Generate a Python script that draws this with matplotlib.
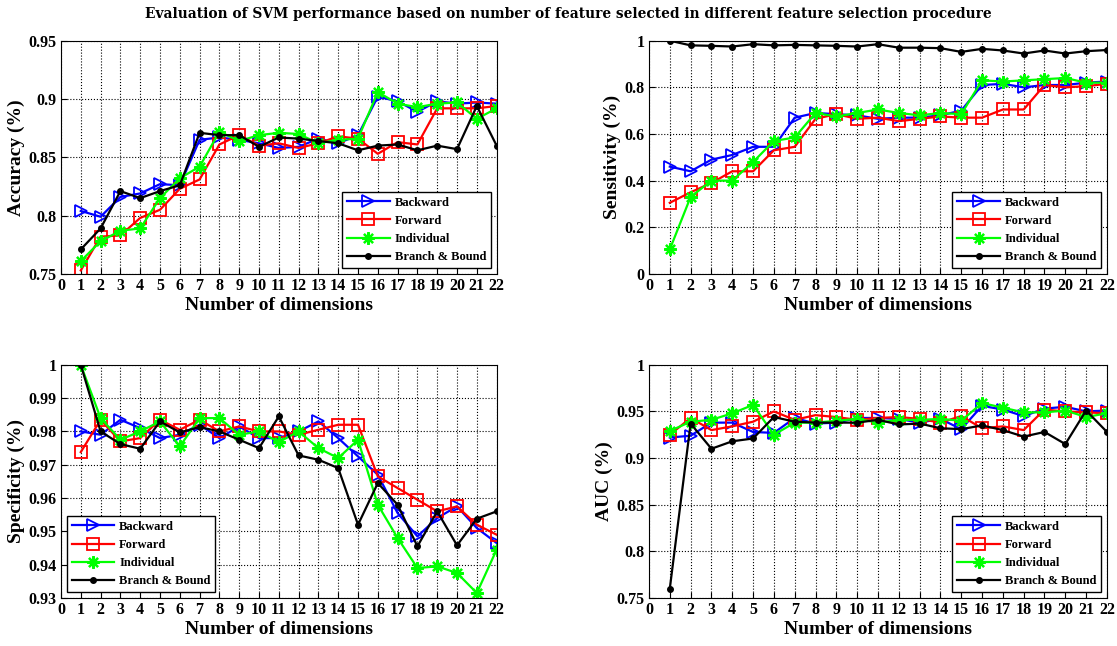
import numpy as np
import matplotlib
matplotlib.use("Agg")
import matplotlib.pyplot as plt
from matplotlib.ticker import FuncFormatter

plt.rcParams['font.family'] = ['Liberation Serif', 'DejaVu Serif']

dims = list(range(1, 23))
methods = ["Backward", "Forward", "Individual", "Branch & Bound"]

acc_backward = [0.804, 0.799, 0.816, 0.819, 0.827, 0.826, 0.865, 0.867, 0.865, 0.862, 0.858,
                0.859, 0.866, 0.862, 0.869, 0.902, 0.898, 0.889, 0.898, 0.896, 0.897, 0.896]
acc_forward = [0.753, 0.782, 0.783, 0.798, 0.805, 0.823, 0.831, 0.861, 0.869, 0.860, 0.862,
               0.858, 0.862, 0.868, 0.866, 0.853, 0.863, 0.861, 0.892, 0.892, 0.892, 0.894]
acc_individual = [0.761, 0.778, 0.787, 0.789, 0.815, 0.832, 0.842, 0.872, 0.864, 0.869, 0.871,
                  0.870, 0.862, 0.865, 0.866, 0.906, 0.896, 0.893, 0.896, 0.897, 0.883, 0.892]
acc_bb = [0.771, 0.789, 0.821, 0.815, 0.821, 0.826, 0.871, 0.869, 0.869, 0.859, 0.867,
          0.866, 0.864, 0.862, 0.856, 0.860, 0.861, 0.856, 0.860, 0.857, 0.894, 0.860]

sen_backward = [0.46, 0.44, 0.49, 0.51, 0.545, 0.545, 0.67, 0.69, 0.685, 0.68, 0.665,
                0.67, 0.67, 0.68, 0.70, 0.81, 0.815, 0.80, 0.81, 0.81, 0.82, 0.825]
sen_forward = [0.305, 0.35, 0.39, 0.44, 0.44, 0.53, 0.545, 0.665, 0.685, 0.665, 0.67,
               0.655, 0.665, 0.675, 0.67, 0.67, 0.705, 0.705, 0.81, 0.80, 0.805, 0.815]
sen_individual = [0.105, 0.33, 0.40, 0.40, 0.48, 0.57, 0.585, 0.69, 0.675, 0.69, 0.705,
                  0.69, 0.68, 0.69, 0.685, 0.83, 0.825, 0.83, 0.835, 0.84, 0.82, 0.82]
sen_bb = [1.0, 0.98, 0.978, 0.975, 0.985, 0.98, 0.982, 0.98, 0.978, 0.975, 0.985,
          0.97, 0.97, 0.968, 0.952, 0.965, 0.958, 0.945, 0.958, 0.945, 0.955, 0.96]

spe_backward = [0.980, 0.979, 0.9835, 0.981, 0.978, 0.979, 0.982, 0.978, 0.9815, 0.978, 0.978,
                0.980, 0.983, 0.978, 0.9725, 0.967, 0.9555, 0.9485, 0.954, 0.9575, 0.951, 0.9465]
spe_forward = [0.9738, 0.9835, 0.977, 0.978, 0.9835, 0.9805, 0.9835, 0.980, 0.9815, 0.980, 0.980,
               0.979, 0.9805, 0.982, 0.982, 0.9665, 0.963, 0.9595, 0.956, 0.9575, 0.952, 0.949]
spe_individual = [1.0, 0.984, 0.9775, 0.980, 0.983, 0.9755, 0.984, 0.984, 0.979, 0.980, 0.9768,
                  0.980, 0.975, 0.972, 0.9775, 0.958, 0.948, 0.939, 0.9395, 0.9375, 0.9315, 0.9445]
spe_bb = [1.0, 0.980, 0.9762, 0.9748, 0.983, 0.9797, 0.9813, 0.980, 0.9775, 0.975, 0.9845,
          0.9728, 0.9715, 0.969, 0.952, 0.9645, 0.958, 0.9455, 0.956, 0.9458, 0.9538, 0.956]

auc_backward = [0.922, 0.924, 0.938, 0.938, 0.928, 0.927, 0.943, 0.937, 0.938, 0.943, 0.943,
                0.942, 0.938, 0.942, 0.931, 0.956, 0.952, 0.945, 0.953, 0.955, 0.950, 0.951]
auc_forward = [0.925, 0.943, 0.930, 0.934, 0.939, 0.950, 0.941, 0.946, 0.944, 0.941, 0.943,
               0.944, 0.942, 0.938, 0.945, 0.932, 0.934, 0.930, 0.952, 0.950, 0.949, 0.948]
auc_individual = [0.929, 0.939, 0.941, 0.948, 0.957, 0.925, 0.938, 0.938, 0.940, 0.942, 0.938,
                  0.941, 0.941, 0.942, 0.940, 0.959, 0.954, 0.949, 0.949, 0.951, 0.944, 0.948]
auc_bb = [0.760, 0.937, 0.910, 0.918, 0.921, 0.944, 0.939, 0.938, 0.938, 0.938, 0.941,
          0.936, 0.937, 0.932, 0.931, 0.935, 0.930, 0.923, 0.928, 0.915, 0.951, 0.928]

styles = [
    dict(color="blue", marker=">", mfc="none", ms=8, mew=1.3),
    dict(color="red", marker="s", mfc="none", ms=8, mew=1.3),
    dict(color="#00ff00", marker=(8, 2, 0), ms=9, mew=1.6),
    dict(color="black", marker="o", ms=4),
]

panels = [
    # (position, series, ylabel, ylim, yticks, legend loc)
    ([0.0546, 0.576, 0.390, 0.361], [acc_backward, acc_forward, acc_individual, acc_bb],
     "Accuracy (%)", (0.75, 0.95), np.arange(0.75, 0.951, 0.05), "lower right"),
    ([0.581, 0.576, 0.410, 0.361], [sen_backward, sen_forward, sen_individual, sen_bb],
     "Sensitivity (%)", (0, 1), np.arange(0, 1.01, 0.2), "lower right"),
    ([0.0546, 0.0743, 0.390, 0.361], [spe_backward, spe_forward, spe_individual, spe_bb],
     "Specificity (%)", (0.93, 1.0), np.arange(0.93, 1.001, 0.01), "lower left"),
    ([0.581, 0.0743, 0.410, 0.361], [auc_backward, auc_forward, auc_individual, auc_bb],
     "AUC (%)", (0.75, 1.0), np.arange(0.75, 1.001, 0.05), "lower right"),
]

fig = plt.figure(figsize=(11.17, 6.46), dpi=100)

for pos, series, ylabel, ylim, yticks, loc in panels:
    ax = fig.add_axes(pos)
    for name, ys, st in zip(methods, series, styles):
        ax.plot(dims, ys, lw=1.6, label=name, **st)
    ax.set_xlim(0, 22)
    ax.set_ylim(*ylim)
    ax.set_xticks(range(0, 23))
    ax.set_yticks(yticks)
    ax.yaxis.set_major_formatter(FuncFormatter(lambda v, p: f"{round(v, 3):g}"))
    ax.grid(True, color="black", linestyle=":", linewidth=0.8)
    ax.tick_params(direction="in", labelsize=11.5, length=4, pad=3)
    for lab in ax.get_xticklabels() + ax.get_yticklabels():
        lab.set_fontweight("bold")
    ax.set_xlabel("Number of dimensions", fontsize=14, fontweight="bold", labelpad=2)
    ax.set_ylabel(ylabel, fontsize=14, fontweight="bold", labelpad=3)
    leg = ax.legend(loc=loc, fancybox=False, framealpha=1, edgecolor="black",
                    prop=dict(size=9, weight="bold"), borderaxespad=0.45,
                    handlelength=3.4, handletextpad=0.4, labelspacing=0.5)
    leg.get_frame().set_linewidth(1.0)

fig.text(0.509, 0.979,
         "Evaluation of SVM performance based on number of feature selected in different feature selection procedure",
         ha="center", va="center", fontsize=9.9, fontweight="bold", family="DejaVu Serif")

fig.savefig("out.png", dpi=100)
